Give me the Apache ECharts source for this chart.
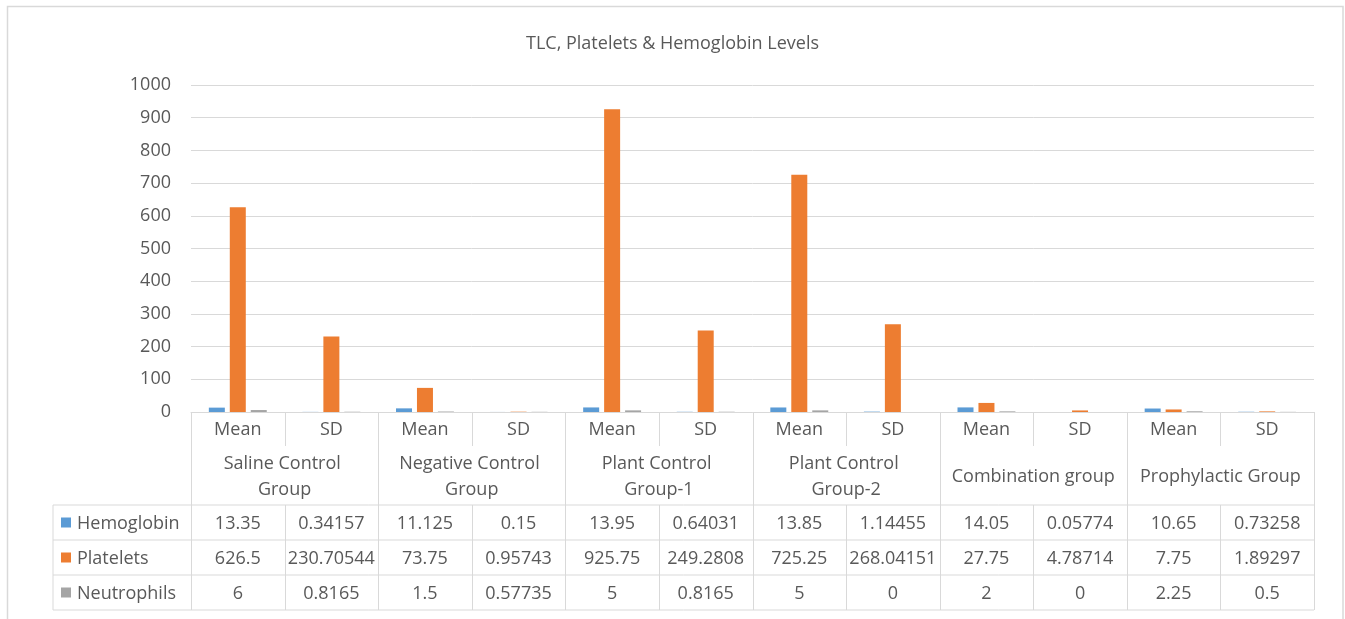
<!DOCTYPE html>
<html>
<head>
<meta charset="utf-8">
<script src="https://cdn.jsdelivr.net/npm/echarts@6/dist/echarts.min.js"></script>
<style>
  html, body { margin: 0; padding: 0; background: #fff; }
  #main { width: 1345px; height: 619px; }
</style>
</head>
<body>
<div id="main"></div>
<script>
var groups = ['Saline Control Group', 'Negative Control Group', 'Plant Control Group-1',
              'Plant Control Group-2', 'Combination group', 'Prophylactic Group'];
var stats = ['Mean', 'SD'];
var seriesNames = ['Hemoglobin', 'Platelets', 'Neutrophils'];
var hemoglobin = [13.35, 0.34157, 11.125, 0.15, 13.95, 0.64031, 13.85, 1.14455, 14.05, 0.05774, 10.65, 0.73258];
var platelets = [626.5, 230.70544, 73.75, 0.95743, 925.75, 249.2808, 725.25, 268.04151, 27.75, 4.78714, 7.75, 1.89297];
var neutrophils = [6, 0.8165, 1.5, 0.57735, 5, 0.8165, 5, 0, 2, 0, 2.25, 0.5];
var yTicks = [0, 100, 200, 300, 400, 500, 600, 700, 800, 900, 1000];

var colors = ['#5B9BD5', '#ED7D31', '#A5A5A5'];
var textColor = '#595959';
var lineColor = '#d9d9d9';
var font = '"Open Sans", sans-serif';

var categories = [];
groups.forEach(function (g) {
  stats.forEach(function (s) { categories.push(g + '|' + s); });
});
var seriesData = [hemoglobin, platelets, neutrophils];

var chart = echarts.init(document.getElementById('main'));

var option = {
  animation: false,
  title: {
    text: 'TLC, Platelets & Hemoglobin Levels',
    left: 'center',
    top: 30,
    textStyle: { fontFamily: font, fontSize: 18, fontWeight: 'normal', color: textColor }
  },
  grid: { left: 191, right: 31, top: 85, bottom: 207 },
  xAxis: {
    type: 'category',
    data: categories,
    axisLine: { lineStyle: { color: lineColor, width: 1 } },
    axisTick: { show: false },
    axisLabel: { show: false }
  },
  yAxis: {
    type: 'value',
    min: yTicks[0],
    max: yTicks[yTicks.length - 1],
    interval: 100,
    axisLine: { show: false },
    axisTick: { show: false },
    axisLabel: { fontFamily: font, fontSize: 18, color: textColor, margin: 20,
                 formatter: function (v) { return String(v); } },
    splitLine: { lineStyle: { color: lineColor, width: 1 } }
  },
  series: seriesNames.map(function (name, i) {
    return {
      name: name,
      type: 'bar',
      barWidth: 16,
      barGap: '31%',
      itemStyle: { color: colors[i] },
      data: seriesData[i]
    };
  })
};
chart.setOption(option);

// data table under the plot
function buildTable() {
  var c0 = chart.convertToPixel({ xAxisIndex: 0 }, 0);
  var c1 = chart.convertToPixel({ xAxisIndex: 0 }, 1);
  var band = c1 - c0;
  var y0 = chart.convertToPixel({ yAxisIndex: 0 }, 0);
  var xL = c0 - band / 2;
  var xR = xL + band * categories.length;
  var legendLeft = 53;
  var hdrB = y0 + 34, grpB = y0 + 93, rowH = 35;
  var rowTops = [grpB, grpB + rowH, grpB + 2 * rowH];
  var tblB = grpB + 3 * rowH;
  var els = [];
  var ls = { stroke: lineColor, lineWidth: 1 };
  function line(x1, y1, x2, y2) {
    els.push({ type: 'line', shape: { x1: x1, y1: y1, x2: x2, y2: y2 }, style: ls, silent: true });
  }
  function txt(t, x, y, extra) {
    var st = { text: t, x: x, y: y, fill: textColor, font: '18px ' + font,
               align: 'center', verticalAlign: 'middle' };
    for (var k in extra) st[k] = extra[k];
    els.push({ type: 'text', style: st, silent: true });
  }
  // outer border of chart
  els.push({ type: 'rect', shape: { x: 7.5, y: 6.5, width: 1335.5, height: 640 },
             style: { fill: null, stroke: lineColor, lineWidth: 1.5 }, silent: true, z: -1 });
  // horizontal rules
  rowTops.forEach(function (y) { line(legendLeft, y, xR, y); });
  line(legendLeft, tblB, xR, tblB);
  line(legendLeft, grpB, legendLeft, tblB);
  // vertical rules
  for (var i = 0; i <= categories.length; i++) {
    var x = Math.round(xL + band * i) + 0.5;
    if (i % 2 === 0) {
      line(x, y0, x, tblB);
    } else {
      line(x, y0, x, hdrB);
      line(x, grpB, x, tblB);
    }
  }
  // header texts
  categories.forEach(function (c, i) {
    var cx = chart.convertToPixel({ xAxisIndex: 0 }, i);
    txt(stats[i % 2], cx, (y0 + hdrB) / 2 + 1);
    seriesData.forEach(function (arr, r) {
      txt(String(arr[i]), cx, rowTops[r] + rowH / 2 + 1);
    });
  });
  groups.forEach(function (g, gi) {
    var cx = xL + band * (2 * gi + 1);
    txt(g, cx, (hdrB + grpB) / 2 + 1, { width: band * 2 - 14, overflow: 'break', lineHeight: 26 });
  });
  // legend keys
  seriesNames.forEach(function (n, r) {
    var cy = rowTops[r] + rowH / 2;
    els.push({ type: 'rect', shape: { x: 61, y: cy - 5, width: 10, height: 10 },
               style: { fill: colors[r] }, silent: true });
    txt(n, 77, cy + 1, { align: 'left' });
  });
  chart.setOption({ graphic: els });
}
buildTable();
</script>
</body>
</html>
